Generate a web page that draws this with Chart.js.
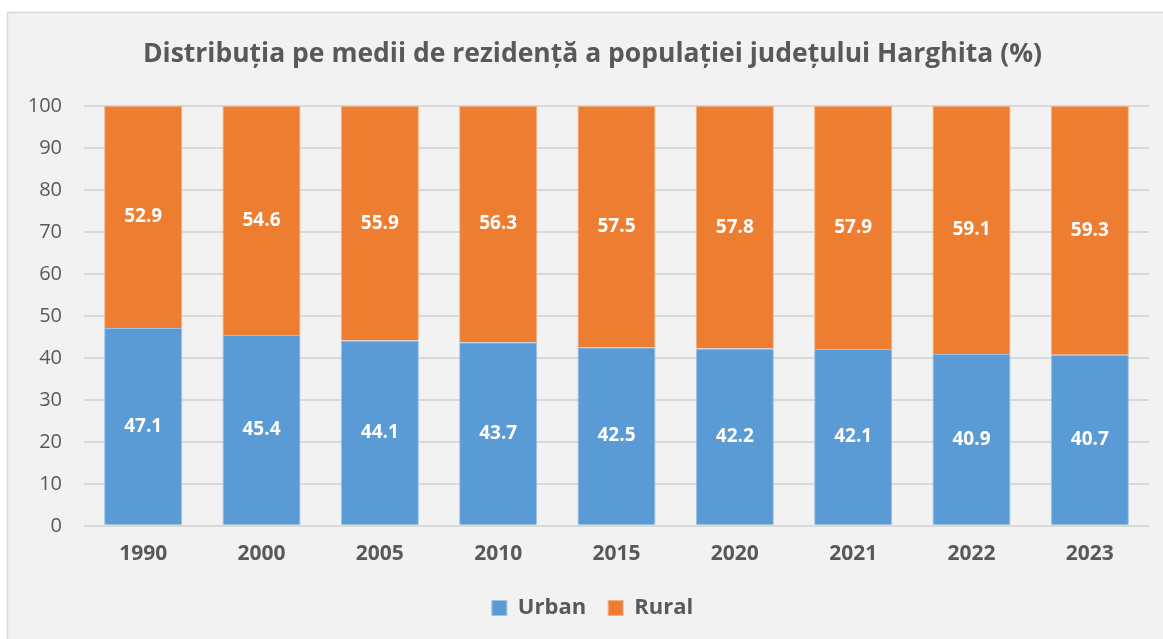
<!DOCTYPE html>
<html>
<head>
<meta charset="utf-8">
<script src="https://cdn.jsdelivr.net/npm/chart.js@4"></script>
<style>
html,body{margin:0;padding:0;background:#ffffff;}
#wrap{position:absolute;left:0;top:0;width:1163px;height:639px;}
</style>
</head>
<body>
<div id="wrap"><canvas id="c" width="1163" height="639"></canvas></div>
<script>
const categories = ['1990','2000','2005','2010','2015','2020','2021','2022','2023'];
const urbanValues = [47.1,45.4,44.1,43.7,42.5,42.2,42.1,40.9,40.7];
const ruralValues = [52.9,54.6,55.9,56.3,57.5,57.8,57.9,59.1,59.3];
const titleText = 'Distribuția pe medii de rezidență a populației județului Harghita (%)';
const seriesNames = ['Urban','Rural'];
const FONT = '"Open Sans", "DejaVu Sans", sans-serif';

const panelPlugin = {
  id: 'panel',
  beforeDraw(chart) {
    const ctx = chart.ctx;
    ctx.save();
    ctx.fillStyle = '#ffffff';
    ctx.fillRect(0, 0, chart.width, chart.height);
    ctx.fillStyle = '#f2f2f2';
    ctx.fillRect(8, 13, chart.width - 8, chart.height - 13);
    ctx.strokeStyle = '#d9d9d9';
    ctx.lineWidth = 1.5;
    ctx.beginPath();
    ctx.moveTo(7.5, chart.height);
    ctx.lineTo(7.5, 12.5);
    ctx.lineTo(chart.width, 12.5);
    ctx.stroke();
    ctx.restore();
  }
};

const labelPlugin = {
  id: 'barLabels',
  afterDatasetsDraw(chart) {
    const ctx = chart.ctx;
    ctx.save();
    ctx.fillStyle = '#ffffff';
    ctx.font = 'bold 19px ' + FONT;
    ctx.textAlign = 'center';
    ctx.textBaseline = 'middle';
    chart.data.datasets.forEach((ds, di) => {
      const meta = chart.getDatasetMeta(di);
      meta.data.forEach((bar, i) => {
        const p = bar.getProps(['x','y','base'], true);
        ctx.fillText(ds.data[i].toFixed(1), p.x, (p.y + p.base) / 2);
      });
    });
    ctx.restore();
  }
};

new Chart(document.getElementById('c'), {
  type: 'bar',
  data: {
    labels: categories,
    datasets: [
      { label: seriesNames[0], data: urbanValues, backgroundColor: '#5b9bd5', borderColor: '#9cc3e6', borderWidth: 1, barPercentage: 0.66, categoryPercentage: 1.0 },
      { label: seriesNames[1], data: ruralValues, backgroundColor: '#ed7d31', borderColor: '#f4b183', borderWidth: 1, barPercentage: 0.66, categoryPercentage: 1.0 }
    ]
  },
  options: {
    responsive: false,
    animation: false,
    layout: { padding: { top: 12, right: 14, left: 36, bottom: 10 } },
    plugins: {
      title: {
        display: true, text: titleText, color: '#595959',
        font: { family: FONT, size: 26.5, weight: 'bold' },
        padding: { top: 27, bottom: 35 }
      },
      legend: {
        position: 'bottom',
        labels: {
          color: '#595959', font: { family: FONT, size: 22, weight: 'bold' },
          boxWidth: 15, boxHeight: 15, padding: 22, useBorderRadius: false
        }
      },
      tooltip: { enabled: false }
    },
    scales: {
      x: {
        stacked: true,
        grid: { display: false },
        border: { display: false },
        ticks: { color: '#595959', font: { family: FONT, size: 21, weight: 'bold' }, padding: 8 }
      },
      y: {
        stacked: true, min: 0, max: 100,
        afterFit(scale) {
          scale.width = 48;
          scale._computeLabelArea = function () { return undefined; };
        },
        grid: { color: '#d9d9d9', lineWidth: 2, drawTicks: false },
        border: { display: false },
        ticks: { stepSize: 10, color: '#595959', font: { family: FONT, size: 20 }, padding: 22 }
      }
    }
  },
  plugins: [panelPlugin, labelPlugin]
});
</script>
</body>
</html>
